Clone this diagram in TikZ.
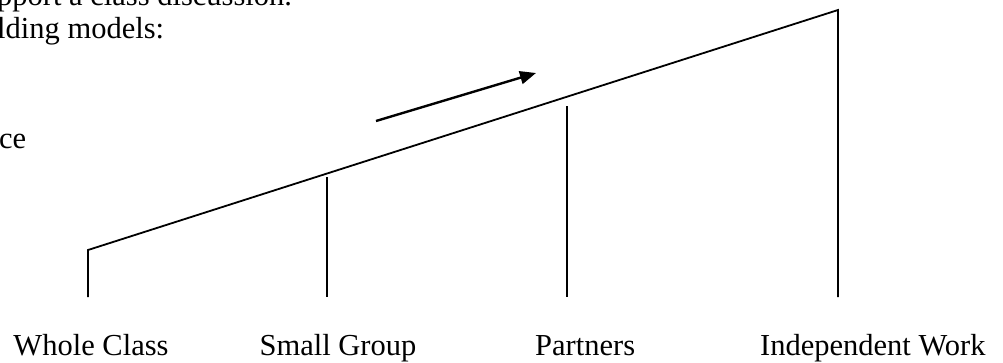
\documentclass[tikz,border=0pt]{standalone}
\usepackage{fontspec}
\setmainfont{Liberation Serif}
\usetikzlibrary{arrows.meta}
\begin{document}
\begin{tikzpicture}[x=1pt,y=-1pt,
  lbl/.style={inner sep=0pt,font=\fontsize{30.5}{36}\selectfont},
  ramp/.style={line width=1.8pt},
  post/.style={line width=1.5pt},
  arr/.style={line width=2.4pt,-{Triangle[length=16pt,width=13pt]}}]
\useasboundingbox (0,0) rectangle (1003,362);
% partial text at top left
\node[lbl,anchor=base west] (t1) at (-3,5) {pport a class discussion.};
\node[lbl,anchor=base west] (t2) at (-3,38) {lding models:};
\node[lbl,anchor=base west] (t3) at (-1,148) {ce};
% ramp
\coordinate (a) at (88,250);
\coordinate (b) at (838,10);
\draw[ramp,line join=miter] (88,297) -- (a) -- (b) -- (838,297);
\coordinate (sg) at (327,177);
\coordinate (sgb) at (327,297);
\coordinate (pa) at (567,106);
\coordinate (pab) at (567,297);
\draw[post] (sg) -- (sgb);
\draw[post] (pa) -- (pab);
% arrow
\coordinate (s) at (376,121);
\coordinate (e) at (536,73);
\draw[arr] (s) -- (e);
% labels
\node[lbl,anchor=base] (wc) at (91,355) {Whole Class};
\node[lbl,anchor=base] (sgl) at (338,355) {Small Group};
\node[lbl,anchor=base west] (pl) at (535,355) {Partners};
\node[lbl,anchor=base west] (iw) at (760,355) {Independent Work};
\end{tikzpicture}
\end{document}
